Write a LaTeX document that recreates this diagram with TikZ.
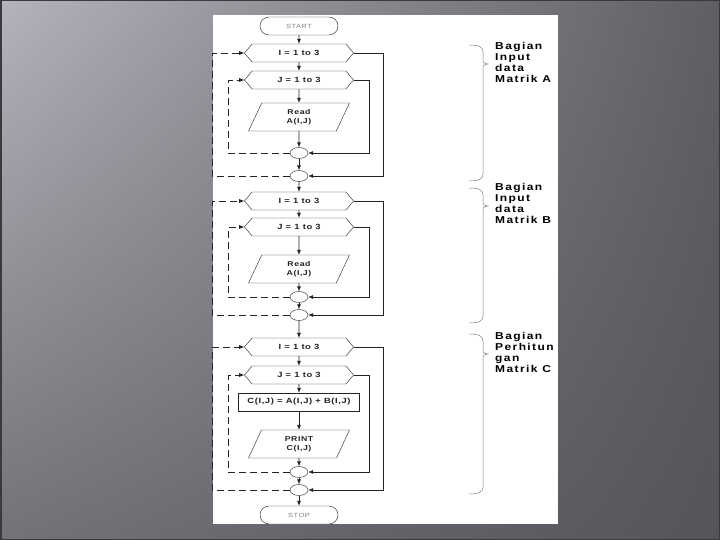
\documentclass[tikz,border=0pt]{standalone}
\usepackage{fontspec}
\setmainfont{Liberation Sans}
\newfontfamily\chartfont[FakeStretch=1.25, LetterSpace=8]{Liberation Sans}
\newfontfamily\widefont[FakeStretch=1.2, LetterSpace=14]{Liberation Sans}
\usetikzlibrary{shapes.geometric, shapes.symbols, arrows.meta, positioning, calc, shadings}
\definecolor{bgUL}{RGB}{180,178,186}
\definecolor{bgLL}{RGB}{116,114,120}
\definecolor{bgUR}{RGB}{96,94,100}
\definecolor{bgLR}{RGB}{86,84,90}
\definecolor{bgEdge}{RGB}{58,58,62}
\definecolor{inkGray}{RGB}{35,35,35}
\tikzset{
    startstop/.style={rectangle, rounded corners=9pt, minimum width=78pt, minimum height=18pt, text centered, draw=inkGray, fill=white, text=gray, font=\chartfont\fontsize{6}{7}\selectfont},
    loophead/.style={signal, signal to=east and west, signal pointer angle=100, minimum width=109pt, minimum height=18pt, inner sep=0pt, text centered, draw=inkGray, fill=white, text=inkGray, font=\chartfont\bfseries\fontsize{7.5}{9}\selectfont},
    io/.style={trapezium, trapezium left angle=53, trapezium right angle=127, trapezium stretches body=true, minimum width=101pt, minimum height=28pt, inner sep=1pt, align=center, draw=inkGray, fill=white, text=inkGray, font=\chartfont\bfseries\fontsize{7}{9}\selectfont},
    process/.style={rectangle, minimum width=121pt, minimum height=18pt, inner sep=1pt, text centered, draw=inkGray, fill=white, text=inkGray, font=\chartfont\bfseries\fontsize{7.5}{9}\selectfont},
    connector/.style={ellipse, minimum width=18pt, minimum height=11pt, inner sep=0pt, draw=inkGray, fill=white},
    arrow/.style={draw=inkGray, line width=0.6pt, ->},
    backloop/.style={draw=inkGray, line width=0.6pt, dash pattern=on 7pt off 4pt, ->},
    bracket/.style={draw=gray, line width=0.5pt},
    partlabel/.style={anchor=north west, align=left, inner sep=0pt, text=black, font=\widefont\bfseries\fontsize{10}{11}\selectfont}
}

\begin{document}
\begin{tikzpicture}[x=1pt, y=-1pt, >={Latex[length=5pt, width=4pt]}]
    \useasboundingbox (0,0) rectangle (720,540);
    % Slide background and white panel
    \shade[upper left=bgUL, lower left=bgLL, upper right=bgUR, lower right=bgLR] (0,0) rectangle (720,540);
    \draw[bgEdge, line width=1.5pt] (0.75,0.75) rectangle (719.25,539.25);
    \fill[white] (213,15) rectangle (558,524);

    % Terminals
    \node (start) [startstop] at (299,26) {START};
    \node (stop) [startstop] at (299,515) {STOP};

    % Input data Matrik A
    \node (i1) [loophead] at (299,53) {I = 1 to 3};
    \node (j1) [loophead] at (299,80) {J = 1 to 3};
    \node (rd1) [io] at (299,117) {Read\\A(I,J)};
    \node (cj1) [connector] at (299,153) {};
    \node (ci1) [connector] at (299,176) {};

    % Input data Matrik B
    \node (i2) [loophead] at (299,201) {I = 1 to 3};
    \node (j2) [loophead] at (299,227) {J = 1 to 3};
    \node (rd2) [io] at (299,269) {Read\\A(I,J)};
    \node (cj2) [connector] at (299,297) {};
    \node (ci2) [connector] at (299,315) {};

    % Perhitungan Matrik C
    \node (i3) [loophead] at (299,347) {I = 1 to 3};
    \node (j3) [loophead] at (299,375) {J = 1 to 3};
    \node (sum) [process] at (299,402) {C(I,J) = A(I,J) + B(I,J)};
    \node (pr) [io] at (299,444) {PRINT\\C(I,J)};
    \node (cj3) [connector] at (299,472) {};
    \node (ci3) [connector] at (299,490) {};

    % Flows
    \draw[arrow] (start) -- (i1);
    \draw[arrow] (i1) -- (j1);
    \draw[arrow] (j1) -- (rd1);
    \draw[arrow] (rd1) -- (cj1);
    \draw[arrow] (cj1) -- (ci1);
    \draw[arrow] (ci1) -- (i2);
    \draw[arrow] (i2) -- (j2);
    \draw[arrow] (j2) -- (rd2);
    \draw[arrow] (rd2) -- (cj2);
    \draw[arrow] (cj2) -- (ci2);
    \draw[arrow] (ci2) -- (i3);
    \draw[arrow] (i3) -- (j3);
    \draw[arrow] (j3) -- (sum);
    \draw[arrow] (sum) -- (pr);
    \draw[arrow] (pr) -- (cj3);
    \draw[arrow] (cj3) -- (ci3);
    \draw[arrow] (ci3) -- (stop);

    % Loop exits (right) and loop backs (left, dashed)
    \draw[arrow] (j1.east) -- ++(16,0) |- (cj1.east);
    \draw[arrow] (i1.east) -- ++(30,0) |- (ci1.east);
    \draw[backloop] (cj1.west) -| ([xshift=-16pt]j1.west) -- (j1.west);
    \draw[backloop] (ci1.west) -| ([xshift=-32pt]i1.west) -- (i1.west);

    \draw[arrow] (j2.east) -- ++(16,0) |- (cj2.east);
    \draw[arrow] (i2.east) -- ++(30,0) |- (ci2.east);
    \draw[backloop] (cj2.west) -| ([xshift=-16pt]j2.west) -- (j2.west);
    \draw[backloop] (ci2.west) -| ([xshift=-32pt]i2.west) -- (i2.west);

    \draw[arrow] (j3.east) -- ++(16,0) |- (cj3.east);
    \draw[arrow] (i3.east) -- ++(30,0) |- (ci3.east);
    \draw[backloop] (cj3.west) -| ([xshift=-16pt]j3.west) -- (j3.west);
    \draw[backloop] (ci3.west) -| ([xshift=-32pt]i3.west) -- (i3.west);

    % Braces and part labels
    \foreach \btop/\btip/\bbot in {45/64/181, 188/206/323, 334/354/494} {
        \draw[bracket] (469,\btop) .. controls (479,\btop) and (483,\btop+2) .. (483,\btop+7)
            -- (483,\btip-4) .. controls (483,\btip-1) .. (488,\btip)
            .. controls (483,\btip+1) .. (483,\btip+4)
            -- (483,\bbot-7) .. controls (483,\bbot-2) and (479,\bbot) .. (469,\bbot);
    }
    \node (labA) [partlabel] at (495,42) {Bagian\\Input\\data\\Matrik A};
    \node (labB) [partlabel] at (495,183) {Bagian\\Input\\data\\Matrik B};
    \node (labC) [partlabel] at (495,332) {Bagian\\Perhitun\\gan\\Matrik C};
\end{tikzpicture}
\end{document}
